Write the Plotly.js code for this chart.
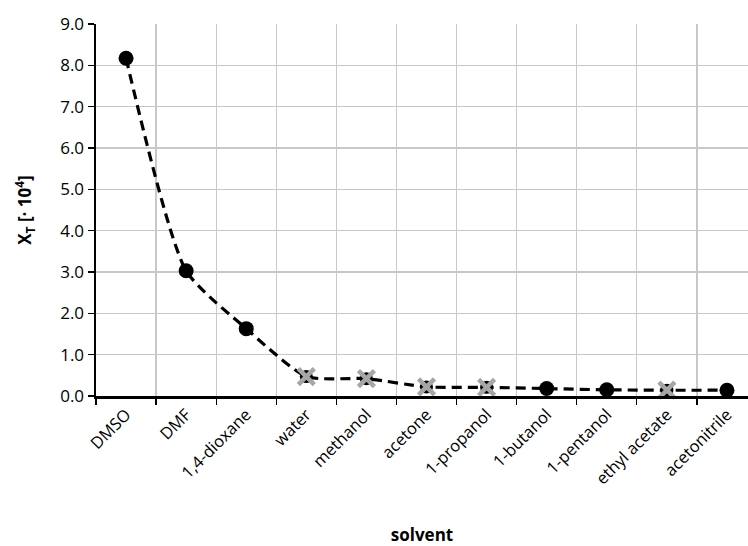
<!DOCTYPE html>
<html>
<head>
<meta charset="utf-8">
<script src="https://cdn.plot.ly/plotly-3.0.1.min.js"></script>
<style>
html,body{margin:0;padding:0;background:#fff;overflow:hidden;}
#chart{width:748px;height:546px;}
</style>
</head>
<body>
<div id="chart"></div>
<script>
const solvents = ["DMSO","DMF","1,4-dioxane","water","methanol","acetone","1-propanol","1-butanol","1-pentanol","ethyl acetate","acetonitrile"];
const xT = [8.17, 3.03, 1.63, 0.47, 0.42, 0.22, 0.21, 0.18, 0.15, 0.14, 0.14];
const crossed = ["water","methanol","acetone","1-propanol","ethyl acetate"];
const yTicks = [0,1,2,3,4,5,6,7,8,9];

const dotX = [], dotY = [], crossX = [], crossY = [];
solvents.forEach((s, i) => {
  if (crossed.includes(s)) { crossX.push(s); crossY.push(xT[i]); }
  else { dotX.push(s); dotY.push(xT[i]); }
});

const font = "'Open Sans', 'Liberation Sans', sans-serif";

const traces = [
  {x: solvents, y: xT, type: "scatter", mode: "lines",
   line: {color: "#000", width: 3.2, dash: "10px,6px", shape: "spline", smoothing: 0.6},
   cliponaxis: false, hoverinfo: "skip"},
  {x: dotX, y: dotY, type: "scatter", mode: "markers",
   marker: {symbol: "circle", size: 15, color: "#000"}, cliponaxis: false},
  {x: crossX, y: crossY, type: "scatter", mode: "markers",
   marker: {symbol: "circle", size: 13, color: "#000"}, cliponaxis: false},
  {x: crossX, y: crossY, type: "scatter", mode: "markers",
   marker: {symbol: "x-thin-open", size: 16, color: "#a6a6a6", line: {color: "#a6a6a6", width: 4.5}}, cliponaxis: false}
];

const layout = {
  width: 748, height: 546,
  margin: {l: 96, r: 0, t: 24, b: 150},
  paper_bgcolor: "#fff", plot_bgcolor: "#fff",
  showlegend: false,
  font: {family: font, color: "#000", size: 16},
  xaxis: {
    type: "category", range: [-0.5, 10.35],
    tickson: "boundaries", ticks: "outside", ticklen: 6, tickcolor: "#000", tickwidth: 1.3,
    showgrid: true, gridcolor: "#c8c8c8", gridwidth: 1.3,
    showline: true, linecolor: "#000", linewidth: 2.5,
    tickangle: -45, tickfont: {size: 16.5, family: font, color: "#000"},
    title: {text: "<b>solvent</b>", font: {size: 17, family: font, color: "#000"}, standoff: 42},
    zeroline: false, fixedrange: true
  },
  yaxis: {
    range: [0, 9], tickvals: yTicks, ticktext: yTicks.map(v => v.toFixed(1)),
    ticks: "outside", ticklen: 6, tickcolor: "#000", tickwidth: 1.3,
    showgrid: true, gridcolor: "#c8c8c8", gridwidth: 1.3,
    showline: true, linecolor: "#000", linewidth: 2.5,
    tickfont: {size: 17, family: font, color: "#000"},
    title: {text: "<b>X<sub>T</sub> [· 10<sup>4</sup>]</b>", font: {size: 17, family: font, color: "#000"}, standoff: 24},
    zeroline: false, fixedrange: true
  }
};

Plotly.newPlot("chart", traces, layout, {displayModeBar: false, staticPlot: true});
</script>
</body>
</html>
